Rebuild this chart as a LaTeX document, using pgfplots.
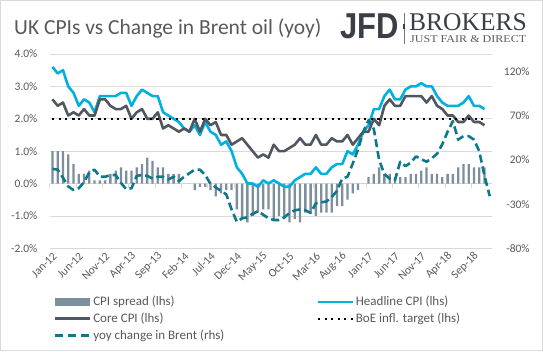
\documentclass[border=0pt]{standalone}
\usepackage{pgfplots}
\pgfplotsset{compat=1.18}
\usepackage{pgfplotstable}
\usepackage{fontspec}
\setmainfont{Carlito}
\newfontfamily\logoserif{Liberation Serif}
\newfontfamily\logosans{Liberation Sans}
\definecolor{headc}{RGB}{0,176,222}
\definecolor{corec}{RGB}{80,87,97}
\definecolor{spreadc}{RGB}{125,143,156}
\definecolor{brentc}{RGB}{14,120,138}
\definecolor{gridc}{RGB}{217,217,217}
\definecolor{labc}{RGB}{89,89,89}
\definecolor{logoc}{RGB}{58,62,70}

\pgfplotstableread{
i head core spread target
0 3.6 2.6 1.0 2.0
1 3.4 2.4 1.0 2.0
2 3.5 2.5 1.0 2.0
3 3.0 2.1 0.9 2.0
4 2.8 2.2 0.6 2.0
5 2.4 2.1 0.3 2.0
6 2.6 2.3 0.3 2.0
7 2.5 2.1 0.4 2.0
8 2.2 2.1 0.1 2.0
9 2.7 2.6 0.1 2.0
10 2.7 2.6 0.1 2.0
11 2.7 2.4 0.3 2.0
12 2.7 2.3 0.4 2.0
13 2.8 2.3 0.5 2.0
14 2.8 2.4 0.4 2.0
15 2.4 2.0 0.4 2.0
16 2.7 2.2 0.5 2.0
17 2.9 2.3 0.6 2.0
18 2.8 2.0 0.8 2.0
19 2.7 2.0 0.7 2.0
20 2.7 2.2 0.5 2.0
21 2.2 1.7 0.5 2.0
22 2.1 1.8 0.3 2.0
23 2.0 1.7 0.3 2.0
24 1.9 1.6 0.3 2.0
25 1.7 1.7 0.0 2.0
26 1.6 1.6 0.0 2.0
27 1.8 2.0 -0.2 2.0
28 1.5 1.6 -0.1 2.0
29 1.9 2.0 -0.1 2.0
30 1.6 1.8 -0.2 2.0
31 1.5 1.9 -0.4 2.0
32 1.2 1.5 -0.3 2.0
33 1.3 1.5 -0.2 2.0
34 1.0 1.2 -0.2 2.0
35 0.5 1.3 -0.8 2.0
36 0.3 1.4 -1.1 2.0
37 0.0 1.2 -1.2 2.0
38 0.0 1.0 -1.0 2.0
39 -0.1 0.8 -0.9 2.0
40 0.1 0.9 -0.8 2.0
41 0.0 0.8 -0.8 2.0
42 0.1 1.2 -1.1 2.0
43 0.0 1.0 -1.0 2.0
44 -0.1 1.0 -1.1 2.0
45 -0.1 1.1 -1.2 2.0
46 0.1 1.2 -1.1 2.0
47 0.2 1.4 -1.2 2.0
48 0.3 1.2 -0.9 2.0
49 0.3 1.2 -0.9 2.0
50 0.5 1.5 -1.0 2.0
51 0.3 1.2 -0.9 2.0
52 0.3 1.2 -0.9 2.0
53 0.5 1.4 -0.9 2.0
54 0.6 1.3 -0.7 2.0
55 0.6 1.3 -0.7 2.0
56 1.0 1.5 -0.5 2.0
57 0.9 1.2 -0.3 2.0
58 1.2 1.4 -0.2 2.0
59 1.6 1.6 0.0 2.0
60 1.8 1.6 0.2 2.0
61 2.3 2.0 0.3 2.0
62 2.3 1.8 0.5 2.0
63 2.7 2.4 0.3 2.0
64 2.9 2.6 0.3 2.0
65 2.6 2.4 0.2 2.0
66 2.6 2.4 0.2 2.0
67 2.9 2.7 0.2 2.0
68 3.0 2.7 0.3 2.0
69 3.0 2.7 0.3 2.0
70 3.1 2.7 0.4 2.0
71 3.0 2.5 0.5 2.0
72 3.0 2.7 0.3 2.0
73 2.7 2.4 0.3 2.0
74 2.5 2.3 0.2 2.0
75 2.4 2.1 0.3 2.0
76 2.4 2.1 0.3 2.0
77 2.4 1.9 0.5 2.0
78 2.5 1.9 0.6 2.0
79 2.7 2.1 0.6 2.0
80 2.4 1.9 0.5 2.0
81 2.4 1.9 0.5 2.0
82 2.3 1.8 0.5 2.0
}\cpidata

\pgfplotstableread{
i brent
0 10
1 9
2 0
3 -10
4 -14
5 -12
6 -5
7 6
8 9
9 1
10 1
11 3
12 3
13 -6
14 -13
15 -12
16 2
17 3
18 2
19 -1
20 1
21 1
22 -2
23 1
24 -4
25 1
26 5
27 9
28 9
29 3
30 -7
31 -11
32 -15
33 -19
34 -36
35 -50
36 -46
37 -45
38 -41
39 -38
40 -42
41 -46
42 -48
43 -48
44 -45
45 -40
46 -37
47 -36
48 -37
49 -40
50 -29
51 -28
52 -27
53 -22
54 -15
55 -1
56 1
57 16
58 32
59 52
60 65
61 55
62 20
63 4
64 -1
65 -3
66 18
67 13
68 17
69 24
70 21
71 18
72 22
73 27
74 38
75 52
76 64
77 43
78 47
79 47
80 43
81 30
82 2
83 -21
}\brentdata

\begin{document}
\begin{tikzpicture}[x=1pt,y=1pt]
\useasboundingbox (0,0) rectangle (543,351);
\draw[gridc, line width=1pt] (0.5,0.5) rectangle (542.5,350.5);
\node[anchor=base west, inner sep=0pt, text=labc, font=\fontsize{21.5}{21.5}\selectfont] at (14,316.5) {UK CPIs vs Change in Brent oil (yoy)};
% logo
\node[anchor=base west, inner sep=0pt, text=logoc, font=\logosans\bfseries\fontsize{36}{36}\selectfont] at (340,312) {\scalebox{0.86}[1]{JFD}};
\draw[logoc!70, line width=0.6pt] (404,338) -- (404,307);
\fill[logoc] (402.9,322) rectangle (405.1,327);
\node[anchor=base west, inner sep=0pt, text=logoc, font=\logoserif\fontsize{25.5}{25.5}\selectfont] at (409,320) {BROKERS};
\node[anchor=base west, inner sep=0pt, text=logoc!85, font=\logoserif\fontsize{7}{7}\selectfont] at (410,308.6) {\resizebox{116pt}{6.9pt}{JUST FAIR \& DIRECT}};

% zero line with ticks
\begin{axis}[at={(49.8pt,102.7pt)}, anchor=south west, scale only axis,
  width=442.6pt, height=194.3pt,
  xmin=-0.5, xmax=83.5, ymin=-2, ymax=4,
  axis x line=middle, axis y line=none,
  x axis line style={gridc, line width=0.8pt, -},
  xtick={-0.5,4.5,...,79.5}, xticklabels={},
  xtick style={gridc, line width=0.8pt}, major tick length=4pt, tick align=outside]
\end{axis}

\begin{axis}[at={(49.8pt,102.7pt)}, anchor=south west, scale only axis,
  width=442.6pt, height=194.3pt,
  xmin=-0.5, xmax=83.5, ymin=-2, ymax=4,
  axis line style={draw=none},
  ytick={-2,-1,0,1,2,3,4},
  yticklabels={-2.0\%,-1.0\%,0.0\%,1.0\%,2.0\%,3.0\%,4.0\%},
  ymajorgrids, grid style={gridc, line width=0.8pt},
  ytick style={draw=none}, xtick style={draw=none},
  xtick={0,5,...,80},
  xticklabels={Jan-12,Jun-12,Nov-12,Apr-13,Sep-13,Feb-14,Jul-14,Dec-14,May-15,Oct-15,Mar-16,Aug-16,Jan-17,Jun-17,Nov-17,Apr-18,Sep-18},
  tick label style={font=\fontsize{11.5}{11.5}\selectfont, text=labc},
  yticklabel style={xshift=-8.8pt},
  xticklabel style={rotate=45, anchor=east, xshift=1pt, yshift=-6pt},
  legend columns=2, legend cell align=left,
  legend style={draw=none, fill=none, inner sep=0pt, outer sep=0pt,
    at={(axis description cs:0.0099,-0.240)}, anchor=north west,
    font=\fontsize{13}{13}\selectfont, text=labc, row sep=2.7pt,
    nodes={inner sep=1.5pt},
    /tikz/every odd column/.append style={column sep=0pt}},
  legend image code/.code={\draw[#1] (0pt,0pt) -- (35pt,0pt);},
]
\addplot[ybar, bar width=2.3pt, fill=spreadc, draw=none,
  legend image code/.code={\fill[spreadc] (0pt,-3.8pt) rectangle (35pt,3.8pt);}]
  table[x=i,y=spread]{\cpidata};
\addlegendentry{\makebox[222pt][l]{CPI spread (lhs)}}
\addplot[headc, line width=2.6pt, line join=round] table[x=i,y=head]{\cpidata};
\addlegendentry{Headline CPI (lhs)}
\addplot[corec, line width=2.6pt, line join=round] table[x=i,y=core]{\cpidata};
\addlegendentry{\makebox[222pt][l]{Core CPI (lhs)}}
\addplot[black, line width=2pt, dash pattern=on 2pt off 4.5pt] table[x=i,y=target]{\cpidata};
\addlegendentry{BoE infl. target (lhs)}
\addlegendimage{brentc, line width=2.6pt, dash pattern=on 8pt off 5pt}
\addlegendentry{\makebox[222pt][l]{yoy change in Brent (rhs)}}
\end{axis}

\begin{axis}[at={(49.8pt,102.7pt)}, anchor=south west, scale only axis,
  width=442.6pt, height=194.3pt,
  xmin=-0.5, xmax=83.5, ymin=-80, ymax=140,
  axis y line*=right, axis x line=none,
  y axis line style={draw=none}, ytick style={draw=none},
  ytick={-80,-30,20,70,120}, yticklabels={-80\%,-30\%,20\%,70\%,120\%},
  yticklabel style={font=\fontsize{11.5}{11.5}\selectfont, text=labc, anchor=east, xshift=40.8pt},
]
\addplot[brentc, line width=2.6pt, dash pattern=on 8pt off 4pt, line join=round] table[x=i,y=brent]{\brentdata};
\end{axis}
\end{tikzpicture}
\end{document}
